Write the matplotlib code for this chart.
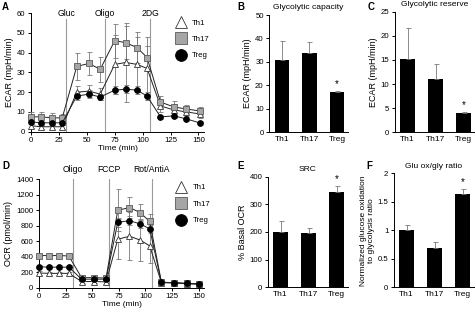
"""
plot.py
ECAR / OCR time courses and summary bars for Th1, Th17 and Treg cells.
"""

import numpy as np
import matplotlib
matplotlib.use("Agg")
import matplotlib.pyplot as plt
from matplotlib.lines import Line2D

plt.rcParams["font.family"] = ["Liberation Sans", "DejaVu Sans"]
plt.rcParams["font.size"] = 5.6
plt.rcParams["axes.linewidth"] = 0.7
plt.rcParams["xtick.major.size"] = 2.5
plt.rcParams["ytick.major.size"] = 2.5
plt.rcParams["xtick.major.width"] = 0.7
plt.rcParams["ytick.major.width"] = 0.7
plt.rcParams["xtick.major.pad"] = 1.5
plt.rcParams["ytick.major.pad"] = 1.5

GROUPS = ["Th1", "Th17", "Treg"]

# panel A: ECAR time course
ecar_time = [0, 9, 19, 28, 41, 52, 62, 75, 85, 95, 104, 116, 128, 139, 151]
ecar_th1 = [3, 2.5, 2.5, 2.5, 20, 20.5, 19, 34, 35, 34, 32, 13, 11, 10, 9]
ecar_th1_err = [1, 1, 1, 1, 3, 3, 3, 15, 20, 14, 16, 3, 3, 2, 2]
ecar_th17 = [7.5, 7.5, 7, 7, 33, 34.5, 31.5, 46, 45, 42.5, 37.5, 15, 12.5, 11.5, 10.5]
ecar_th17_err = [2.5, 2.5, 2.5, 2, 7, 6, 6.5, 8.5, 8.5, 8, 6, 3, 3, 2, 2]
ecar_treg = [5, 4.5, 4.5, 4.5, 18, 19, 17.5, 21, 21.5, 21, 18, 7.5, 8, 6.5, 4.5]
ecar_treg_err = [1, 1, 1, 1, 2, 2, 1.5, 2, 2, 2, 2, 1, 1, 1, 1]
ecar_inject_t = [31.5, 66.5, 107]
ecar_inject_lbl = ["Gluc", "Oligo", "2DG"]

# panel D: OCR time course
ocr_time = [0, 9, 19, 28, 40, 52, 63, 74, 85, 95, 104, 115, 127, 139, 150]
ocr_th1 = [190, 185, 185, 185, 80, 80, 75, 625, 665, 615, 540, 65, 60, 50, 45]
ocr_th1_err = [20, 20, 20, 20, 15, 15, 15, 260, 310, 265, 220, 10, 10, 10, 10]
ocr_th17 = [415, 415, 415, 410, 130, 130, 125, 1000, 1035, 970, 855, 70, 65, 55, 50]
ocr_th17_err = [25, 25, 25, 25, 20, 20, 20, 270, 130, 110, 95, 10, 10, 10, 10]
ocr_treg = [270, 265, 265, 265, 110, 110, 110, 845, 865, 825, 760, 70, 65, 55, 50]
ocr_treg_err = [25, 25, 25, 25, 20, 20, 20, 60, 60, 60, 50, 10, 10, 10, 10]
ocr_inject_t = [31.5, 66, 106]
ocr_inject_lbl = ["Oligo", "FCCP", "Rot/AntiA"]

# bar panels
glyco_cap = [31, 34, 17]
glyco_cap_err = [8, 4.5, 0.7]
glyco_res = [15.2, 11, 4]
glyco_res_err = [6.5, 3.2, 0.2]
src = [200, 195, 343]
src_err = [38, 18, 25]
ox_gly = [1.0, 0.69, 1.63]
ox_gly_err = [0.09, 0.1, 0.1]

W, H = 475, 311
fig = plt.figure(figsize=(W / 100, H / 100), dpi=100)


def box(l, t, r, b):
    return [l / W, 1 - b / H, (r - l) / W, (b - t) / H]


STYLE = {
    "Th1": dict(marker="^", mfc="white", mec="#333333"),
    "Th17": dict(marker="s", mfc="#a6a6a6", mec="#5a5a5a"),
    "Treg": dict(marker="o", mfc="black", mec="black"),
}


def clean(ax):
    ax.spines["top"].set_visible(False)
    ax.spines["right"].set_visible(False)


def timecourse(ax, t, series, inject_t, inject_lbl, vtop, lbl_y, leg_anchor):
    for g, (y, e) in zip(GROUPS, series):
        ax.errorbar(t, y, yerr=e, color="#222222", lw=0.7, ecolor="#777777",
                    elinewidth=0.6, capsize=1.8, capthick=0.6, ms=4.2,
                    mew=0.6, clip_on=False, zorder=3, **STYLE[g])
    for x, s in zip(inject_t, inject_lbl):
        ax.plot([x, x], [0, vtop], color="#9a9a9a", lw=0.8, zorder=1)
        ax.text(x, lbl_y, s, ha="center", va="center", fontsize=6.2,
                clip_on=False)
    handles = [Line2D([], [], ls="none", ms=8.5, mew=0.6, **STYLE[g]) for g in GROUPS]
    ax.legend(handles, GROUPS, loc="upper left", frameon=False,
              fontsize=5.6, handlelength=1.2, handletextpad=0.85,
              labelspacing=1.15, bbox_to_anchor=leg_anchor, borderaxespad=0)
    ax.set_xlim(0, 155)
    ax.set_xticks([0, 25, 50, 75, 100, 125, 150])
    ax.set_xlabel("Time (min)", labelpad=0.5, fontsize=6)
    clean(ax)


def barpanel(ax, vals, errs, ylim, yticks, title, ylabel, ticklabels=None,
             ylabel_size=6.5):
    x = np.arange(len(GROUPS))
    ax.bar(x, vals, width=0.52, color="black")
    ax.errorbar(x, vals, yerr=[np.zeros(len(vals)), errs], fmt="none",
                ecolor="#777777", elinewidth=0.6, capsize=1.8, capthick=0.6)
    ax.text(x[2], vals[2] + errs[2] + ylim[1] * 0.015, "*", ha="center",
            va="bottom", fontsize=7)
    ax.set_xlim(-0.45, 2.4)
    ax.set_ylim(*ylim)
    ax.set_yticks(yticks)
    if ticklabels is not None:
        ax.set_yticklabels(ticklabels)
    ax.set_xticks(x)
    ax.set_xticklabels(GROUPS, fontsize=6)
    ax.tick_params(axis="x", length=0, pad=3)
    ax.set_title(title, fontsize=6.1, pad=4)
    ax.set_ylabel(ylabel, labelpad=2, fontsize=ylabel_size)
    clean(ax)


axA = fig.add_axes(box(31, 13, 204, 131.7))
timecourse(axA, ecar_time,
           [(ecar_th1, ecar_th1_err), (ecar_th17, ecar_th17_err), (ecar_treg, ecar_treg_err)],
           ecar_inject_t, ecar_inject_lbl, 57, 60, (0.82, 0.975))
axA.set_ylim(0, 60)
axA.set_yticks(range(0, 61, 10))
axA.set_ylabel("ECAR (mpH/min)", labelpad=2, fontsize=6.5)

axD = fig.add_axes(box(39, 179.3, 204, 287.7))
timecourse(axD, ocr_time,
           [(ocr_th1, ocr_th1_err), (ocr_th17, ocr_th17_err), (ocr_treg, ocr_treg_err)],
           ocr_inject_t, ocr_inject_lbl, 1400, 1530, (0.815, 0.985))
axD.set_ylim(0, 1400)
axD.set_yticks(range(0, 1401, 200))
axD.set_ylabel("OCR (pmol/min)", labelpad=2, fontsize=6.5)

axB = fig.add_axes(box(269.3, 15, 348, 132.3))
barpanel(axB, glyco_cap, glyco_cap_err, (0, 50), range(0, 51, 10),
         "Glycolytic capacity", "ECAR (mpH/min)")

axC = fig.add_axes(box(395, 11.7, 475, 132.3))
barpanel(axC, glyco_res, glyco_res_err, (0, 25), range(0, 26, 5),
         "Glycolytic reserve", "ECAR (mpH/min)")

axE = fig.add_axes(box(268, 176.7, 348, 287.3))
barpanel(axE, src, src_err, (0, 400), range(0, 401, 100),
         "SRC", "% Basal OCR")

axF = fig.add_axes(box(394, 173.3, 474, 287.3))
barpanel(axF, ox_gly, ox_gly_err, (0, 2), [0, 0.5, 1, 1.5, 2],
         "Glu ox/gly ratio", "Normalized glucose oxidation\nto glycolysis ratio",
         ["0", "0.5", "1", "1.5", "2"], ylabel_size=6)

for s, (x, y) in zip("ABCDEF", [(2, 7), (237, 7), (368, 7), (2, 166), (237, 166), (366, 166)]):
    fig.text(x / W, 1 - y / H, s, fontsize=7, fontweight="bold", va="center", ha="left")

fig.savefig("out.png", dpi=100)
